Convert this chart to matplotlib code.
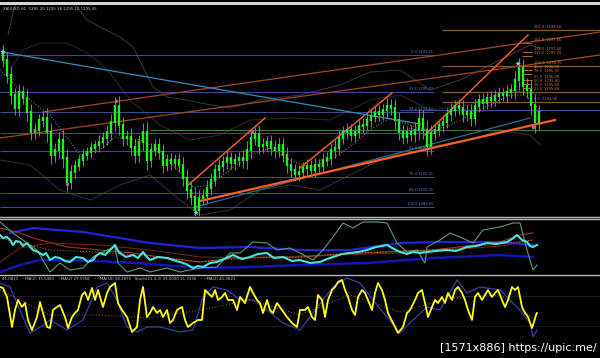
import numpy as np
import matplotlib
matplotlib.use("Agg")
import matplotlib.pyplot as plt
from matplotlib.lines import Line2D

W, H = 600, 358

# ---- main window: H1 closes (open = previous close) ----
first_open = 1297.40
closes = [1297.00, 1296.25, 1295.25, 1294.60, 1295.40, 1295.10, 1294.40, 1293.40, 1293.50, 1294.00,
          1294.10, 1293.40, 1292.25, 1292.50, 1293.00, 1292.10, 1290.90, 1291.40, 1291.70, 1292.00,
          1292.25, 1292.40, 1292.60, 1292.75, 1292.90, 1293.10, 1293.40, 1293.90, 1294.70, 1293.75,
          1293.10, 1293.15, 1292.65, 1292.25, 1292.90, 1293.40, 1292.00, 1292.50, 1292.75, 1292.40,
          1291.75, 1292.00, 1291.85, 1292.00, 1291.75, 1291.10, 1290.50, 1290.15, 1289.50, 1290.10,
          1290.20, 1290.60, 1291.00, 1291.50, 1291.70, 1291.90, 1292.10, 1291.85, 1292.00, 1292.10,
          1292.00, 1292.50, 1293.10, 1293.30, 1292.70, 1292.75, 1292.90, 1292.60, 1292.50, 1292.75,
          1292.25, 1291.75, 1291.50, 1291.30, 1291.40, 1291.60, 1291.70, 1291.50, 1291.75, 1291.70,
          1292.00, 1292.10, 1292.50, 1292.60, 1293.10, 1293.40, 1293.50, 1293.25, 1293.40, 1293.70,
          1293.75, 1294.00, 1294.20, 1294.40, 1294.30, 1294.50, 1294.70, 1294.60, 1294.00, 1293.40,
          1293.15, 1293.40, 1293.30, 1293.50, 1294.05, 1293.50, 1292.70, 1293.35, 1293.50, 1293.75,
          1293.90, 1294.30, 1294.50, 1294.70, 1294.60, 1294.30, 1294.40, 1294.10, 1294.70, 1295.00,
          1294.85, 1295.10, 1295.00, 1295.20, 1295.30, 1295.25, 1295.40, 1295.50, 1296.00, 1296.60,
          1295.70, 1295.50, 1294.75, 1293.90, 1294.40]
# shadow length beyond the body, per candle
wicks = [0.30, 0.35, 0.40, 0.30, 0.35, 0.25, 0.40, 0.35, 0.30, 0.25,
         0.30, 0.45, 0.40, 0.30, 0.35, 0.45, 0.40, 0.30, 0.25, 0.20,
         0.25, 0.20, 0.25, 0.20, 0.30, 0.25, 0.30, 0.35, 0.40, 0.45,
         0.35, 0.30, 0.40, 0.35, 0.30, 0.40, 0.45, 0.30, 0.25, 0.30,
         0.35, 0.25, 0.30, 0.25, 0.30, 0.35, 0.40, 0.35, 0.45, 0.35,
         0.30, 0.35, 0.30, 0.25, 0.30, 0.25, 0.30, 0.25, 0.30, 0.25,
         0.35, 0.40, 0.35, 0.30, 0.35, 0.30, 0.25, 0.30, 0.35, 0.30,
         0.30, 0.35, 0.30, 0.25, 0.30, 0.25, 0.30, 0.25, 0.30, 0.25,
         0.30, 0.25, 0.30, 0.35, 0.30, 0.25, 0.30, 0.25, 0.30, 0.25,
         0.30, 0.25, 0.30, 0.25, 0.30, 0.25, 0.35, 0.30, 0.40, 0.35,
         0.30, 0.25, 0.30, 0.35, 0.45, 0.40, 0.45, 0.35, 0.30, 0.25,
         0.30, 0.25, 0.30, 0.25, 0.30, 0.35, 0.30, 0.35, 0.30, 0.25,
         0.30, 0.25, 0.30, 0.25, 0.30, 0.25, 0.30, 0.25, 0.40, 0.45,
         0.40, 0.35, 0.45, 0.50, 0.30]

# bollinger-ish envelopes and dotted MA
band_up1_x = [2, 3.5, 6, 17, 19.25, 21.75, 25, 30, 33.25, 35.75, 38.25, 41.75, 46.75, 50, 57.5, 65, 75,
              85, 92.5, 100, 107.5, 115, 125, 132.5, 135]
band_up1_y = [1298.25, 1299.60, 1300.50, 1300.30, 1299.65, 1299.00, 1298.65, 1298.15, 1297.65, 1296.65,
              1295.65, 1295.15, 1295.00, 1294.85, 1294.60, 1295.00, 1295.25, 1295.75, 1296.40, 1296.50,
              1295.50, 1296.00, 1297.00, 1297.75, 1297.60]
band_up2_x = [2.5, 5.75, 10, 16.75, 21.75, 25, 27.5, 32.5, 40, 47.5, 55, 62.5, 72.5, 82.5, 92.5, 100,
              107.5, 117.5, 127.5, 135]
band_up2_y = [1296.50, 1297.50, 1297.85, 1297.85, 1297.35, 1296.85, 1296.35, 1295.00, 1293.75, 1293.00,
              1293.25, 1294.00, 1294.10, 1294.00, 1295.00, 1295.25, 1294.50, 1294.75, 1295.50, 1295.25]
band_lo_x = [0, 7.5, 15, 22.5, 30, 37.5, 45, 50, 57.5, 65, 72.5, 80, 87.5, 95, 102.5, 110, 117.5, 125,
             132.5, 135]
band_lo_y = [1292.00, 1291.75, 1290.50, 1290.00, 1290.75, 1291.25, 1290.00, 1289.25, 1289.50, 1290.50,
             1290.75, 1290.50, 1291.25, 1292.00, 1292.50, 1292.75, 1293.00, 1293.50, 1293.25, 1292.75]
ma_x = [0, 7.5, 12.5, 20, 25, 28.75, 35, 40, 48.25, 52.5, 57.5, 62.5, 67.5, 72.5, 77.5, 82.5, 87.5,
        92.5, 97.5, 102.5, 107.5, 112.5, 120, 127.5, 131.25, 135]
ma_y = [1296.50, 1295.00, 1294.25, 1292.25, 1292.50, 1293.15, 1293.00, 1292.50, 1290.65, 1290.75,
        1291.50, 1292.25, 1292.60, 1292.00, 1291.60, 1292.00, 1292.65, 1293.50, 1294.10, 1293.75,
        1293.40, 1293.75, 1294.50, 1295.25, 1295.25, 1294.50]

# fibonacci (left, blue) and expansion (right, orange)
fib_left_lv = ["0.0", "23.6", "38.2", "50.0", "61.8", "76.4", "88.6", "100.0"]
fib_left_px = [1297.25, 1295.40, 1294.40, 1293.35, 1292.45, 1291.15, 1290.35, 1289.65]
fib_right_lv = ["261.8", "161.8", "138.2", "127.2", "100.0", "88.6", "78.6", "61.8", "50.0", "38.2",
                "23.6", "0.0"]
fib_right_px = [1298.50, 1297.85, 1297.40, 1297.20, 1296.70, 1296.50, 1296.30, 1296.00, 1295.80,
                1295.60, 1295.40, 1294.90]
fib_right_long = ["261.8", "100.0", "23.6", "0.0"]

# trend lines: (bar0, price0, bar1, price1)
trend_cyan = (0.5, 1297.40, 105, 1293.80)
trend_teal = (48.75, 1289.65, 132.5, 1294.10)
trend_support = (50, 1289.95, 138.75, 1294.00)
channel_lines = [(10.75, 1294.40, 150, 1298.40), (0, 1293.10, 150, 1297.25)]
impulse_lines = [(46.75, 1290.70, 66.25, 1294.10), (75, 1291.60, 98, 1295.35),
                 (106.25, 1293.25, 132, 1298.25)]

hi_marks_x = [0.75, 49, 129.5]
hi_marks_y = [1297.40, 1289.35, 1296.80]
zz_marks_x = [29, 16.75, 63, 133.25]
zz_marks_y = [1294.95, 1290.80, 1293.40, 1293.65]

# ---- indicator window 1 ----
cyan_x = [0, 0.75, 1.75, 2.5, 3.25, 4, 5, 5.75, 6.75, 7.5, 8.25, 9.5, 10.75, 11.5, 12.5, 13.75, 15,
          16.25, 17.5, 19, 20.75, 22, 23.25, 24, 25, 26.25, 27.5, 28.75, 29.5, 30, 31.5, 33.25, 34.5,
          35.75, 36.5, 37.5, 39.5, 41.75, 43.25, 45, 46.5, 48.25, 49.5, 50.75, 52.5, 54.25, 56, 58.25,
          60.5, 62.5, 64.5, 66.75, 68.5, 70.75, 73, 75, 77.5, 80, 81.75, 83.25, 85.5, 87.5, 89.5, 91.75,
          94, 96.75, 98.5, 100, 101.75, 103.25, 105, 106.75, 109, 111.75, 114, 116.75, 119, 121.75,
          124, 126.75, 128, 129.25, 130.5, 131.75, 132.5, 133.25, 134.25]
cyan_v = [38, 35, 36, 33, 28, 32, 31, 27, 30, 26, 23, 21, 18, 20, 13, 16, 15, 12, 11, 16, 15, 11, 13,
          17, 20, 18, 23, 28, 22, 20, 16, 18, 15, 21, 17, 13, 16, 15, 13, 11, 9, 5, 7, 6, 10, 11, 14,
          18, 14, 16, 19, 20, 15, 16, 12, 13, 10, 11, 14, 16, 19, 20, 21, 23, 26, 28, 24, 21, 19, 21,
          20, 21, 22, 23, 22, 26, 27, 30, 29, 31, 34, 38, 33, 31, 27, 26, 28]
green_x = [0, 3.25, 6.75, 9.25, 11.75, 12.5, 15, 17.5, 20.75, 23.25, 26.75, 28.75, 29.5, 31.75, 35,
           37.5, 41.75, 45, 50, 54.25, 57.5, 60, 63.25, 66.75, 69.25, 72.5, 75, 78.25, 80.75, 83.25,
           85.75, 88.25, 90.75, 94.25, 96.75, 99.25, 101.75, 104.25, 105.75, 106.25, 106.75, 110,
           112.5, 115, 118.25, 120.75, 125, 128.25, 130, 131.75, 133.25, 134.25]
green_v = [51, 40, 30, 23, 6, 1, 10, 3, 5, 16, 23, 26, 10, 1, 5, 1, 5, 1, 5, 6, 20, 20, 31, 30, 23, 25,
           20, 13, 23, 36, 50, 45, 51, 51, 50, 30, 21, 23, 13, 10, 26, 33, 40, 36, 30, 43, 46, 50, 50,
           23, 3, 8]
blue_up_x = [2.5, 8.25, 20.75, 37.5, 50, 62.5, 75, 87.5, 100, 110, 125, 133.25]
blue_up_v = [40, 45, 41, 30, 25, 26, 23, 23, 30, 31, 31, 28]
blue_lo_x = [0, 5, 10, 25, 37.5, 50, 62.5, 75, 91.75, 108.25, 125, 133.25]
blue_lo_v = [1, 8, 13, 12, 9, 5, 6, 8, 10, 15, 18, 16]
red1_x = [0, 4.25, 8.25, 16.75, 25, 33.25, 41.75, 50, 58.25, 66.75, 75, 91.75, 108.25, 125, 130, 133.25]
red1_v = [45, 41, 35, 26, 23, 20, 15, 11, 15, 16, 16, 20, 23, 31, 38, 40]
red2_x = [0, 5, 12.5, 25, 37.5, 50, 62.5, 75, 100, 112.5, 125, 133.25]
red2_v = [11, 25, 30, 28, 23, 16, 15, 17, 20, 23, 27, 33]
sig1_x = [0, 12.5, 25, 37.5, 50, 62.5, 75, 87.5, 100, 112.5, 125, 133.25]
sig1_v = [35, 23, 21, 17, 11, 15, 16, 20, 22, 24, 29, 33]

# ---- indicator window 2 (stochastic) ----
stoch_x = [0, 0.75, 1.75, 3, 3.75, 4.5, 5.5, 6.25, 7, 8,
           9.25, 10, 10.75, 11.75, 12.5, 13.25, 14.25, 15, 16.25, 17,
           18, 18.75, 19.5, 20.5, 21.25, 22, 23, 23.75, 24.5, 25.75,
           26.75, 27.5, 28.75, 29.5, 30.5, 31.75, 33, 34.25, 35, 35.75,
           36.75, 37.5, 38.25, 39.25, 40, 40.75, 41.75, 42.5, 43.25, 44.25,
           45.5, 46.25, 47, 48.25, 49.5, 50.5, 51.25, 52, 53, 53.75,
           54.5, 55.5, 56.25, 57, 58.25, 59.25, 60, 61.25, 62.5, 63.25,
           64.25, 65, 65.75, 66.75, 67.5, 68.25, 69.25, 70.5, 71.75, 73,
           74.25, 75, 76.25, 77, 78, 78.75, 79.5, 80.5, 81.25, 82,
           83, 83.75, 84.5, 85.5, 86.25, 87, 88, 88.75, 89.5, 90.5,
           91.25, 92, 93, 93.75, 94.5, 95.5, 96.25, 97, 98.25, 99.5,
           100.75, 101.75, 102.5, 103.75, 104.5, 105.5, 106.25, 107, 108, 108.75,
           109.5, 110.5, 111.25, 112, 113, 113.75, 114.5, 115.5, 116.25, 117,
           118, 118.75, 119.5, 120.5, 121.25, 122, 123, 123.75, 124.5, 125.5,
           126.25, 127, 128, 128.75, 129.5, 130.5, 131.25, 132, 133, 133.25,
           134, 134.25]
stoch_v = [59, 58, 49, 19, 36, 46, 39, 43, 26, 16,
           29, 44, 33, 19, 18, 36, 39, 41, 29, 18,
           29, 33, 36, 51, 54, 46, 58, 46, 56, 39,
           53, 59, 63, 43, 36, 29, 14, 19, 46, 59,
           29, 33, 39, 33, 36, 29, 36, 23, 26, 36,
           39, 26, 19, 23, 26, 26, 56, 53, 49, 56,
           46, 49, 53, 46, 46, 36, 49, 43, 59, 53,
           46, 43, 33, 46, 36, 33, 43, 36, 29, 23,
           19, 36, 36, 39, 29, 26, 51, 46, 29, 46,
           56, 59, 64, 66, 56, 49, 36, 31, 49, 56,
           53, 46, 36, 53, 63, 56, 46, 33, 23, 13,
           19, 33, 36, 46, 53, 56, 43, 29, 39, 46,
           43, 49, 43, 53, 46, 56, 59, 53, 46, 36,
           26, 49, 53, 46, 51, 56, 49, 53, 56, 46,
           39, 46, 59, 56, 59, 39, 33, 29, 18, 21,
           31, 33]
slow_x = [0, 2.5, 5, 7.5, 10, 12.5, 16.75, 20.75, 24.25, 26.75, 29.25, 31.75, 34.25, 36.75, 40, 45,
          48.25, 50.75, 53.25, 56.75, 60, 63.25, 66.75, 70.75, 75, 78.25, 83.25, 86.75, 90, 93.25,
          96.75, 100, 103.25, 106.75, 110, 114.25, 116.75, 120, 125, 129.25, 132.5, 133.25, 134.25]
slow_v = [63, 59, 36, 13, 19, 26, 16, 26, 59, 63, 46, 19, 14, 19, 19, 14, 16, 49, 59, 56, 46, 46, 36,
          23, 16, 33, 59, 68, 63, 46, 29, 13, 26, 39, 36, 66, 53, 59, 56, 39, 23, 9, 16]
sig2_x = [0, 12.5, 25, 37.5, 50, 62.5, 75, 87.5, 100, 112.5, 125, 133.25]
sig2_v = [56, 31, 31, 28, 36, 46, 31, 51, 34, 48, 51, 28]

header = "XAUUSD,H1  1295.20 1295.36 1295.12 1295.35"
sub_header = ("41.0821   ~MA(2) 35.5460   ~MA(2) 29.5958   ~~MA(50) 58.2875   "
              "Stoch(21,3,3) 39.0000 11.3336   ~~MA(2) 41.0821")

fig = plt.figure(figsize=(W / 100, H / 100), dpi=100, facecolor="black")


def panel(top, bottom):
    a = fig.add_axes([0, 1 - bottom / H, 1, (bottom - top) / H])
    a.set_facecolor("black")
    a.set_xlim(0, 150)
    a.axis("off")
    return a


ax = panel(5, 216)
ax1 = panel(220, 273)
ax2 = panel(276, 346)
ax.set_ylim(1289.2, 1299.75)
ax1.set_ylim(0, 53)
ax2.set_ylim(0, 70)

# window frame lines
for y in (2.5, 4.0):
    fig.add_artist(Line2D([0, 1], [1 - y / H] * 2, color="#d8d8d8", lw=1.4))
for y in (217, 219.2, 274.5):
    fig.add_artist(Line2D([0, 1], [1 - y / H] * 2, color="#b8b8b8", lw=1.0))

# ---- main chart ----
ax.plot(band_up1_x, band_up1_y, color="#3a3a3a", lw=0.7)
ax.plot(band_up2_x, band_up2_y, color="#2c2c2c", lw=0.7)
ax.plot(band_lo_x, band_lo_y, color="#333333", lw=0.7)

ax.hlines(fib_left_px, 0, 108.5, color="#3b4a8e", lw=0.8)
for lv, p in zip(fib_left_lv, fib_left_px):
    ax.text(108.3, p + 0.03, f"{lv} {p:.2f}", fontsize=2.6, color="#6a78d0", ha="right", va="bottom")
ax.hlines(1294.50, 100, 150, color="#3b4a8e", lw=0.8)
ax.hlines(1293.50, 37.5, 150, color="#3d7a3d", lw=0.8)

for lv, p in zip(fib_right_lv, fib_right_px):
    if lv in fib_right_long:
        ax.hlines(p, 110.5, 150, color="#8a5a28", lw=0.9)
    else:
        ax.hlines(p, 130.5, 133, color="#b06a30", lw=0.7)
    ax.text(133.5, p + 0.03, f"{lv}  {p:.2f}", fontsize=2.6, color="#d07a40", va="bottom")

for x0, y0, x1, y1 in channel_lines:
    ax.plot([x0, x1], [y0, y1], color="#a0481e", lw=0.9)
for x0, y0, x1, y1 in impulse_lines:
    ax.plot([x0, x1], [y0, y1], color="#f05a20", lw=1.1)
ax.plot(trend_cyan[::2], trend_cyan[1::2], color="#2f8fc0", lw=0.9)
ax.plot(trend_teal[::2], trend_teal[1::2], color="#236f8a", lw=0.9)
ax.plot(trend_support[::2], trend_support[1::2], color="#ff6020", lw=1.6)

ax.plot(ma_x, ma_y, color="#a08890", lw=0.7, ls=(0, (1, 2)))

o = np.array([first_open] + closes[:-1])
c = np.array(closes)
w = np.array(wicks)
xs = np.arange(len(closes)) + 0.75
body_lo = np.minimum(o, c) - 0.03
body_hi = np.maximum(o, c) + 0.03
ax.vlines(xs, body_lo - w, body_hi + w, color="#18c818", lw=0.7)
ax.vlines(xs, body_lo, body_hi, color="#22ee22", lw=1.7)

ax.plot(hi_marks_x, hi_marks_y, "*", color="#8cc8ff", ms=4, mew=0)
ax.plot(zz_marks_x, zz_marks_y, "o", color="#d050d0", ms=2.5, mew=0)

fig.text(3 / W, 1 - 9 / H, header, fontsize=2.8, color="#c8c8c8", va="center")

# ---- indicator 1 ----
ax1.plot(blue_up_x, blue_up_v, color="#2222d8", lw=1.6)
ax1.plot(blue_lo_x, blue_lo_v, color="#1414b0", lw=1.8)
ax1.plot(red1_x, red1_v, color="#a83220", lw=0.8)
ax1.plot(red2_x, red2_v, color="#7a2418", lw=0.7)
ax1.plot(sig1_x, sig1_v, color="#c08040", lw=0.7, ls=(0, (1, 2)))
ax1.plot(green_x, green_v, color="#5c9c72", lw=0.8)
ax1.plot(cyan_x, cyan_v, color="#46e6e0", lw=1.5)

# ---- indicator 2 ----
ax2.hlines([20, 50], 0, 150, color="#1c1c1c", lw=0.6)
ax2.plot(sig2_x, sig2_v, color="#a06a30", lw=0.7, ls=(0, (1, 2)))
ax2.plot(slow_x, slow_v, color="#3c3ca8", lw=0.9)
ax2.plot(stoch_x, stoch_v, color="#ffff10", lw=1.3)
fig.text(2 / W, 1 - 279 / H, sub_header, fontsize=2.8, color="#c8c8c8", va="center")

fig.text(597 / W, 1 - 348 / H, "[1571x886] https://upic.me/", fontsize=8, color="white",
         ha="right", va="center")

fig.savefig("out.png", dpi=100, facecolor="black")
